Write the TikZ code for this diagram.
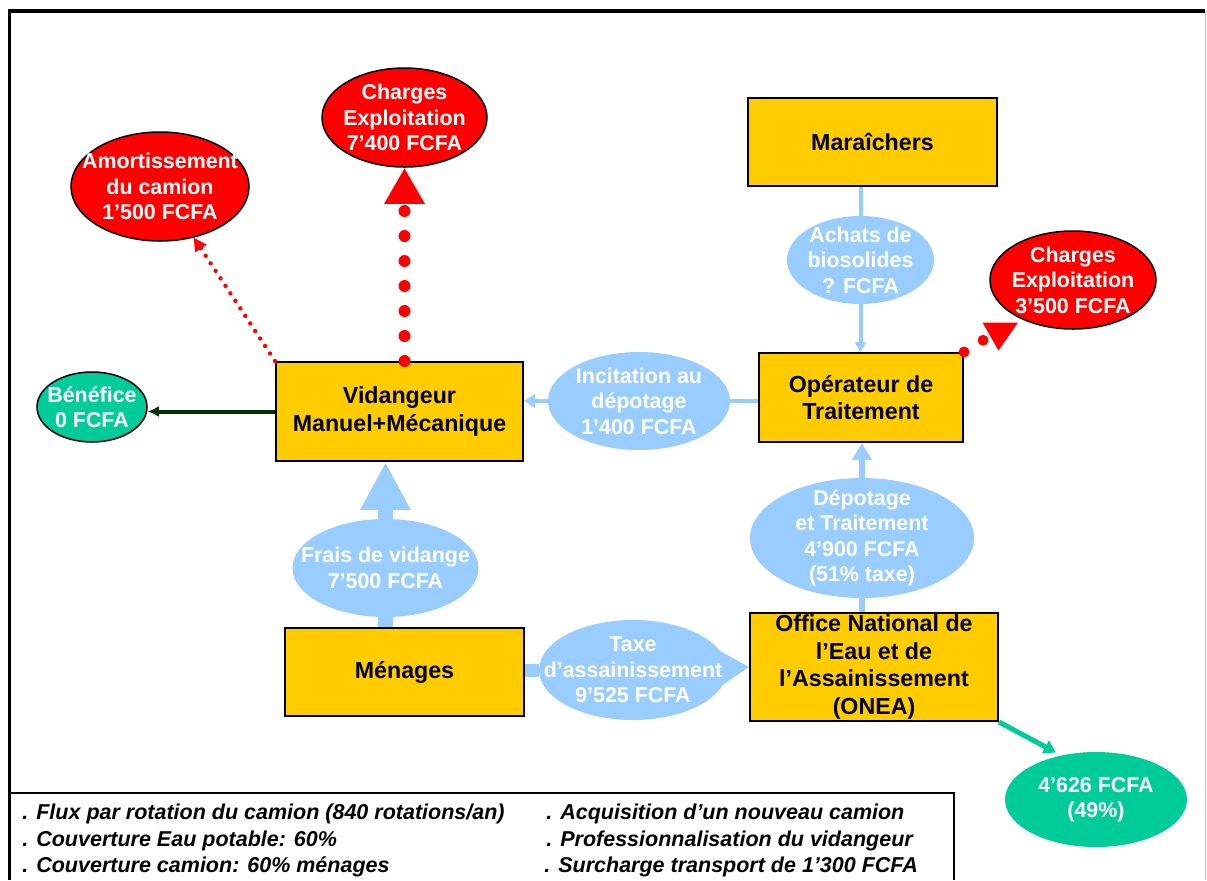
\documentclass[tikz,border=0pt]{standalone}
\usepackage{fontspec}
\setmainfont{Liberation Sans}
\usetikzlibrary{arrows.meta,shapes.geometric,shapes.callouts}
\definecolor{boxyellow}{HTML}{FFCC00}
\definecolor{costred}{HTML}{FF0000}
\definecolor{flowblue}{HTML}{99CCFF}
\definecolor{gaingreen}{HTML}{00CC99}
\definecolor{darkgreen}{HTML}{003300}
\tikzset{
  actor/.style={draw=black, line width=1pt, fill=boxyellow, inner sep=0pt, align=center,
    font=\fontsize{11.6}{13.8}\selectfont\bfseries},
  ell/.style={ellipse, inner sep=0pt},
  redell/.style={ell, draw=black, line width=0.75pt, fill=costred},
  benell/.style={ell, draw=black, line width=0.75pt, fill=gaingreen},
  resell/.style={ell, fill=gaingreen},
  blueell/.style={ell, fill=flowblue},
  etxt/.style={text=white, align=center, inner sep=0pt, font=\fontsize{10.7}{12.75}\selectfont\bfseries},
  legtxt/.style={anchor=base west, inner sep=0pt, font=\fontsize{10.75}{13.15}\selectfont\bfseries\itshape},
  blueflow/.style={draw=flowblue, line width=2pt},
  bigdots/.style={draw=costred, line cap=round, line width=6pt, dash pattern=on 0pt off 12.5pt},
  smalldots/.style={draw=costred, line cap=round, line width=2.2pt, dash pattern=on 0pt off 4.5pt}
}
\begin{document}
\begin{tikzpicture}[x=0.5pt,y=-0.5pt]
\useasboundingbox (0,0) rectangle (1207,880);
% frame
\draw[line width=1.6pt] (9.5,880) -- (9.5,11) -- (1205,11);
\draw[gray!50, line width=0.5pt] (1205.5,11) -- (1205.5,880);
\draw[line width=1pt] (9.5,792.5) -- (954,792.5) -- (954,880);

% boxes
\node[actor, minimum width=124.5pt, minimum height=44pt] (mar) at (872.5,142) {Maraîchers};
\node[actor, minimum width=123.5pt, minimum height=49.5pt] (vid) at (399.5,411.5) {Vidangeur\\Manuel+Mécanique};
\node[actor, minimum width=102pt, minimum height=44.5pt] (op) at (861,397.5) {Opérateur de\\Traitement};
\node[actor, minimum width=119.5pt, minimum height=44pt] (men) at (404.5,672) {Ménages};
\node[actor, minimum width=124pt, minimum height=54pt] (onea) at (874,667) {Office National de\\l’Eau et de\\l’Assainissement\\(ONEA)};

% ellipses
\node[redell, minimum width=82.5pt, minimum height=49.5pt,
  label={[etxt]center:Charges\\Exploitation\\7’400 FCFA}] (ce1) at (404.5,117.5) {};
\node[redell, minimum width=89pt, minimum height=54.5pt,
  label={[etxt]center:Amortissement\\du camion\\1’500 FCFA}] (amort) at (160,186.5) {};
\node[benell, minimum width=55pt, minimum height=35pt,
  label={[etxt]center:Bénéfice\\0 FCFA}] (ben) at (92,407) {};
\node[redell, minimum width=83pt, minimum height=49pt,
  label={[etxt]center:Charges\\Exploitation\\3’500 FCFA}] (ce2) at (1073,280) {};
\node[blueell, minimum width=73.5pt, minimum height=44pt,
  label={[etxt]center:Achats de\\biosolides\\? FCFA}] (ach) at (860.5,260) {};
\node[blueell, minimum width=91pt, minimum height=49pt,
  label={[etxt]center:Incitation au\\dépotage\\1’400 FCFA}] (inc) at (639,401) {};
\node[blueell, minimum width=93pt, minimum height=49pt,
  label={[etxt]center:Frais de vidange\\7’500 FCFA}] (frais) at (385.5,568) {};
\node[blueell, minimum width=112pt, minimum height=60pt,
  label={[etxt]center:Dépotage\\et Traitement\\4’900 FCFA\\(51\% taxe)}] (dep) at (862,538) {};
\node[resell, minimum width=91pt, minimum height=47.5pt,
  label={[etxt]center:4’626 FCFA\\(49\%)}] (res) at (1096,799.5) {};
\node[ellipse callout, fill=flowblue, inner sep=0pt, minimum width=94pt, minimum height=50pt,
  callout absolute pointer={(onea.west)}, callout pointer arc=40,
  label={[etxt]center:Taxe\\d’assainissement\\9’525 FCFA}] (taxe) at (633,670) {};

% connectors
\draw[darkgreen, line width=2pt, -{Latex[length=5.5pt,width=5.5pt]}] (vid.west) -- (vid.west -| ben.east);
\draw[smalldots, -{Triangle[length=6.5pt,width=6.5pt]}] (vid.north west) -- (amort);
\draw[bigdots, -{Triangle[length=18pt,width=19pt]}] (vid.north -| ce1.south) -- (ce1.south);
\coordinate (c2end) at (983.5,340);
\draw[draw=costred, line cap=round, line width=5.5pt, dash pattern=on 0pt off 11.2pt] (op.north east) -- (c2end);
\coordinate (c2a) at (982.5,322.5);
\coordinate (c2b) at (1018,322.5);
\coordinate (c2c) at (998.5,350.5);
\fill[costred] (c2a) -- (c2b) -- (c2c) -- cycle;

\draw[blueflow] (ach.north |- mar.south) -- (ach.north);
\draw[blueflow, -{Triangle[length=5pt,width=5.5pt]}] (ach.south) -- (ach.south |- op.north);
\draw[blueflow] (op.west |- inc.east) -- (inc.east);
\draw[blueflow, -{Triangle[length=5.5pt,width=6.5pt]}] (inc.west) -- (inc.west -| vid.east);
\draw[draw=flowblue, line width=7.5pt] (frais.south |- men.north) -- (frais.south);
\draw[draw=flowblue, line width=7.5pt, -{Triangle[length=24pt,width=23.5pt]}] (frais.north) -- (frais.north |- vid.south);
\draw[draw=flowblue, line width=3pt] (dep.south |- onea.north) -- (dep.south);
\draw[draw=flowblue, line width=3pt, -{Triangle[length=8.5pt,width=9.5pt]}] (dep.north) -- (dep.north |- op.south);
\draw[draw=flowblue, line width=6.5pt] (men.east |- taxe.west) -- (taxe.west);
\coordinate (restip) at (1056,752.5);
\draw[gaingreen, line width=2.5pt, -{Triangle[length=6pt,width=7pt]}] (onea.south east) -- (restip);

% legend
\node[legtxt] (l1) at (22,819.5) {. Flux par rotation du camion (840 rotations/an)};
\node[legtxt] (l2) at (22,846) {. Couverture Eau potable: 60\%};
\node[legtxt] (l3) at (22,872) {. Couverture camion: 60\% ménages};
\node[legtxt] (l4) at (546,819.5) {. Acquisition d’un nouveau camion};
\node[legtxt] (l5) at (546,846) {. Professionnalisation du vidangeur};
\node[legtxt] (l6) at (544,872) {. Surcharge transport de 1’300 FCFA};
\end{tikzpicture}
\end{document}
